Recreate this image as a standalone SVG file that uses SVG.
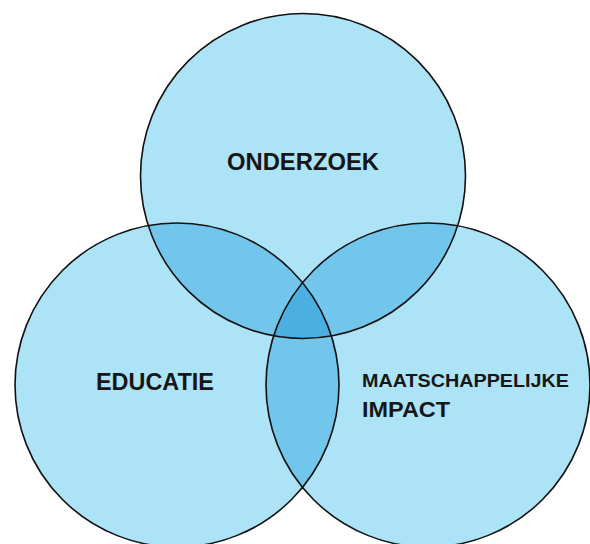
<svg xmlns="http://www.w3.org/2000/svg" width="590" height="544" viewBox="0 0 590 544">
<style>
.base{fill:#ade3f6}
.two{fill:#73c6eb}
.three{fill:#4cafe1}
.edge{fill:none;stroke:#111;stroke-width:1.6}
.lbl{font-family:"Liberation Sans",Arial,sans-serif;font-weight:bold;fill:#161616}
</style>
<defs>
<clipPath id="cT"><circle cx="303" cy="176" r="162.5"/></clipPath>
<clipPath id="cL"><circle cx="177" cy="385" r="162"/></clipPath>
<clipPath id="cR"><circle cx="428" cy="385" r="162"/></clipPath>
</defs>
<rect width="590" height="544" fill="#fff"/>
<g id="fills">
<circle class="base" cx="303" cy="176" r="162.5"/>
<circle class="base" cx="177" cy="385" r="162"/>
<circle class="base" cx="428" cy="385" r="162"/>
<g clip-path="url(#cT)"><circle class="two" cx="177" cy="385" r="162"/><circle class="two" cx="428" cy="385" r="162"/></g>
<g clip-path="url(#cL)"><circle class="two" cx="428" cy="385" r="162"/></g>
<g clip-path="url(#cT)"><g clip-path="url(#cL)"><circle class="three" cx="428" cy="385" r="162"/></g></g>
</g>
<g id="onderzoek">
<circle class="edge" cx="303" cy="176" r="162.5"/>
<text class="lbl" x="227" y="170" font-size="23" textLength="152" lengthAdjust="spacingAndGlyphs">ONDERZOEK</text>
</g>
<g id="educatie">
<circle class="edge" cx="177" cy="385" r="162"/>
<text class="lbl" x="96" y="390" font-size="23" textLength="118" lengthAdjust="spacingAndGlyphs">EDUCATIE</text>
</g>
<g id="impact">
<circle class="edge" cx="428" cy="385" r="162"/>
<text class="lbl" x="362" y="387" font-size="17.5" textLength="207" lengthAdjust="spacingAndGlyphs">MAATSCHAPPELIJKE</text>
<text class="lbl" x="362" y="417" font-size="22" textLength="88" lengthAdjust="spacingAndGlyphs">IMPACT</text>
</g>
<g id="connectors"/>
</svg>
